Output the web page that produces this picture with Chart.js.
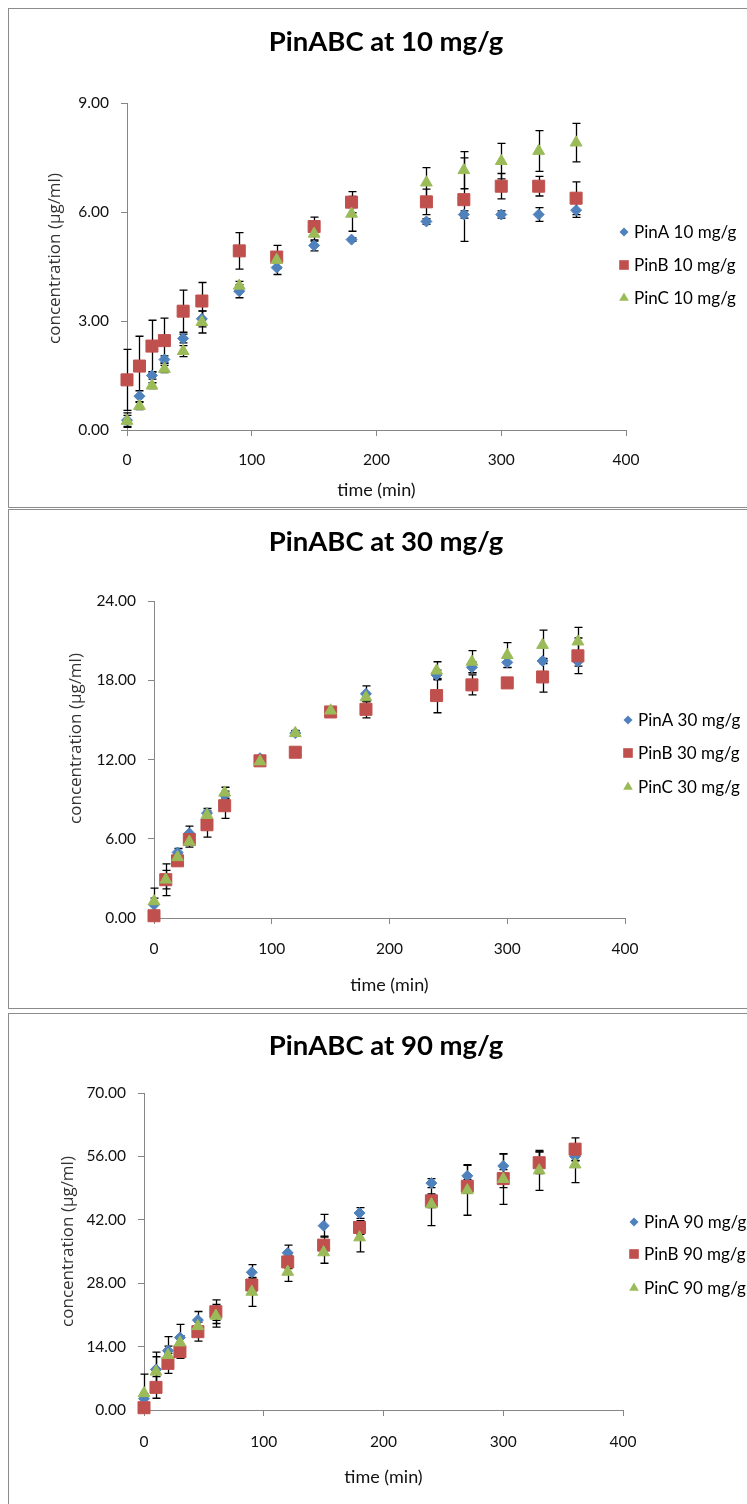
<!DOCTYPE html>
<html><head><meta charset="utf-8">
<script src="https://cdn.jsdelivr.net/npm/chart.js@4.4.1/dist/chart.umd.min.js"></script>
<style>
html,body{margin:0;padding:0;background:#fff;overflow:hidden;width:747px;height:1504px;position:relative;}
.panel{position:absolute;left:8px;border:1px solid #8c8c8c;background:#fff;}
canvas{display:block;}
</style></head><body>
<div class="panel" style="top:8px"><canvas id="c1" width="754" height="498"></canvas></div>
<div class="panel" style="top:509px"><canvas id="c2" width="754" height="498"></canvas></div>
<div class="panel" style="top:1013px"><canvas id="c3" width="754" height="495"></canvas></div>
<script>
// ---- data ----
const times = [0, 10, 20, 30, 45, 60, 90, 120, 150, 180, 240, 270, 300, 330, 360];
const xTickLabels = ['0', '100', '200', '300', '400'];

const titles = ['PinABC at 10 mg/g', 'PinABC at 30 mg/g', 'PinABC at 90 mg/g'];
const xAxisTitle = 'time (min)';
const yAxisTitle = 'concentration (µg/ml)';
const seriesNames10 = ['PinA 10 mg/g', 'PinB 10 mg/g', 'PinC 10 mg/g'];
const seriesNames30 = ['PinA 30 mg/g', 'PinB 30 mg/g', 'PinC 30 mg/g'];
const seriesNames90 = ['PinA 90 mg/g', 'PinB 90 mg/g', 'PinC 90 mg/g'];

const yTicks10 = ['0.00', '3.00', '6.00', '9.00'];
const yTicks30 = ['0.00', '6.00', '12.00', '18.00', '24.00'];
const yTicks90 = ['0.00', '14.00', '28.00', '42.00', '56.00', '70.00'];

const pinA10 = [0.27, 0.93, 1.50, 1.94, 2.52, 3.06, 3.82, 4.47, 5.08, 5.24, 5.74, 5.93, 5.93, 5.93, 6.05];
const pinB10 = [1.38, 1.76, 2.31, 2.46, 3.27, 3.55, 4.93, 4.76, 5.60, 6.27, 6.28, 6.34, 6.71, 6.71, 6.38];
const pinC10 = [0.25, 0.66, 1.22, 1.68, 2.17, 2.97, 3.97, 4.68, 5.40, 5.95, 6.81, 7.15, 7.40, 7.68, 7.91];
const errA10 = [0.20, 0.15, 0.10, 0.10, 0.12, 0.22, 0.18, 0.19, 0.15, 0.05, 0.08, 0.10, 0.10, 0.19, 0.20];
const errB10 = [0.84, 0.82, 0.71, 0.62, 0.58, 0.51, 0.50, 0.32, 0.26, 0.29, 0.35, 1.15, 0.35, 0.27, 0.45];
const errC10 = [0.15, 0.10, 0.08, 0.10, 0.15, 0.30, 0.12, 0.20, 0.20, 0.48, 0.41, 0.51, 0.49, 0.56, 0.53];

const pinA30 = [1.00, 2.90, 4.96, 6.41, 7.94, 9.30, 12.10, 14.00, 15.60, 16.97, 18.40, 18.98, 19.35, 19.46, 19.42];
const pinB30 = [0.17, 2.90, 4.33, 5.94, 7.06, 8.50, 11.90, 12.55, 15.60, 15.80, 16.84, 17.65, 17.80, 18.25, 19.85];
const pinC30 = [1.26, 2.90, 4.60, 5.77, 7.79, 9.49, 11.85, 13.99, 15.70, 16.70, 18.73, 19.40, 19.90, 20.67, 20.93];
const errA30 = [0.50, 0.70, 0.30, 0.55, 0.35, 0.30, 0.20, 0.20, 0.20, 0.60, 0.37, 0.40, 0.37, 0.20, 0.35];
const errB30 = [0.30, 1.20, 0.30, 0.30, 0.93, 0.95, 0.20, 0.20, 0.20, 0.65, 1.30, 0.75, 0.20, 1.15, 1.35];
const errC30 = [1.00, 0.30, 0.30, 0.40, 0.30, 0.41, 0.20, 0.20, 0.20, 0.30, 0.67, 0.84, 0.95, 1.13, 1.07];

const pinA90 = [2.5, 8.97, 13.1, 16.0, 19.85, 21.3, 30.4, 34.7, 40.7, 43.5, 50.1, 51.7, 53.9, 54.8, 56.0];
const pinB90 = [0.5, 5.0, 10.3, 12.9, 17.3, 21.7, 27.6, 32.7, 36.4, 40.3, 46.2, 49.4, 51.1, 54.6, 57.6];
const pinC90 = [3.7, 8.46, 12.1, 14.9, 18.5, 20.8, 26.1, 30.5, 34.8, 38.1, 45.4, 48.5, 51.0, 52.9, 54.2];
const errA90 = [1.0, 3.8, 3.1, 2.9, 1.9, 1.5, 1.7, 1.7, 2.5, 1.2, 1.0, 2.5, 2.6, 2.2, 1.0];
const errB90 = [0.5, 2.4, 2.2, 1.5, 2.1, 2.6, 1.5, 1.5, 2.0, 1.5, 1.5, 1.5, 2.0, 2.4, 2.5];
const errC90 = [4.2, 3.3, 2.0, 1.5, 1.5, 2.5, 3.2, 2.1, 2.4, 3.2, 4.7, 5.5, 5.6, 4.4, 4.0];

// ---- styles ----
const COLORS = ['#4F81BD', '#C0504D', '#9BBB59'];
const STYLES = ['rectRot', 'rect', 'triangle'];
const RADII = [5.5, 8.5, 6.8];
const LEGEND_RADII = [4.5, 6.8, 5.6];
const FONT = 'Lato';

const errorBarPlugin = {
  id: 'errorBars',
  beforeDatasetsDraw(chart) {
    const ctx = chart.ctx, xs = chart.scales.x, ys = chart.scales.y;
    ctx.save();
    ctx.strokeStyle = '#000';
    ctx.lineWidth = 1.3;
    chart.data.datasets.forEach(ds => {
      ds.data.forEach((p, i) => {
        const e = ds.errors[i];
        const x = Math.round(xs.getPixelForValue(p.x)) + 0.5;
        const yt = ys.getPixelForValue(p.y + e);
        const yb = ys.getPixelForValue(p.y - e);
        ctx.beginPath();
        ctx.moveTo(x, yt); ctx.lineTo(x, yb);
        ctx.moveTo(x - 4, yt); ctx.lineTo(x + 4, yt);
        ctx.moveTo(x - 4, yb); ctx.lineTo(x + 4, yb);
        ctx.stroke();
      });
    });
    ctx.restore();
  }
};

const sideLegendPlugin = {
  id: 'sideLegend',
  afterDraw(chart, args, opts) {
    const ctx = chart.ctx;
    ctx.save();
    chart.data.datasets.forEach((ds, i) => {
      const x = opts.x, y = opts.rows[i];
      ctx.fillStyle = ds.backgroundColor;
      Chart.helpers.drawPoint(ctx, {pointStyle: ds.pointStyle, radius: LEGEND_RADII[i], borderWidth: 0, rotation: 0}, x, y);
      ctx.fillStyle = '#000';
      ctx.font = '17px ' + FONT;
      ctx.textAlign = 'left';
      ctx.textBaseline = 'middle';
      ctx.fillText(ds.label, x + 10, y + 1);
    });
    ctx.restore();
  }
};

const yTitlePlugin = {
  id: 'yTitle',
  afterDraw(chart, args, opts) {
    const ctx = chart.ctx, ca = chart.chartArea;
    ctx.save();
    ctx.translate(opts.x, (ca.top + ca.bottom) / 2 + opts.dy);
    ctx.rotate(-Math.PI / 2);
    ctx.font = '17px "Open Sans"';
    ctx.fillStyle = '#333';
    ctx.textAlign = 'center';
    ctx.textBaseline = 'middle';
    ctx.fillText(opts.text, 0, 0);
    ctx.restore();
  }
};

function makeChart(id, title, names, series, errs, yLabels, L) {
  const yMax = parseFloat(yLabels[yLabels.length - 1]);
  const datasets = series.map((vals, s) => ({
    label: names[s],
    data: times.map((t, i) => ({x: t, y: vals[i]})),
    errors: errs[s],
    showLine: false,
    pointStyle: STYLES[s],
    pointRadius: RADII[s],
    pointHoverRadius: RADII[s],
    backgroundColor: COLORS[s],
    borderColor: COLORS[s],
    pointBorderWidth: 1,
    order: 2 - s,
    clip: false
  }));
  return new Chart(document.getElementById(id), {
    type: 'scatter',
    data: {datasets},
    plugins: [errorBarPlugin, sideLegendPlugin, yTitlePlugin],
    options: {
      responsive: false,
      animation: false,
      events: [],
      layout: {padding: 0},
      plugins: {
        legend: {display: false},
        tooltip: {enabled: false},
        title: {
          display: true, text: title, color: '#000',
          font: {family: FONT, size: 27.5, weight: 'bold'},
          padding: {top: L.tTop, bottom: L.tBottom}
        },
        sideLegend: {x: L.legX, rows: L.legRows},
        yTitle: {text: yAxisTitle, x: L.yTitleX, dy: L.yTitleDy}
      },
      scales: {
        x: {
          type: 'linear', min: 0, max: 400,
          afterFit: s => { s.height = L.xHeight; s.paddingLeft = 0; s.paddingRight = L.padRight; },
          afterBuildTicks: s => { s.ticks = xTickLabels.map(v => ({value: parseFloat(v)})); },
          ticks: {
            color: '#111', font: {family: FONT, size: 15.5}, padding: L.xTickPad,
            maxRotation: 0, autoSkip: false,
            callback: (v, i) => xTickLabels[i]
          },
          grid: {drawOnChartArea: false, drawTicks: true, tickLength: 6, color: '#868686', lineWidth: 1},
          border: {display: true, color: '#868686', width: 1},
          title: {display: true, text: xAxisTitle, color: '#111',
                  font: {family: FONT, size: 18}, padding: {top: 0, bottom: L.xTitlePad}}
        },
        y: {
          type: 'linear', min: 0, max: yMax,
          afterFit: s => { s.width = L.yWidth; s.paddingTop = 0; s.paddingBottom = 0; },
          afterBuildTicks: s => { s.ticks = yLabels.map(v => ({value: parseFloat(v)})); },
          ticks: {
            color: '#111', font: {family: FONT, size: 15.5}, padding: 12,
            autoSkip: false,
            callback: (v, i) => yLabels[i]
          },
          grid: {drawOnChartArea: false, drawTicks: true, tickLength: 6, color: '#868686', lineWidth: 1},
          border: {display: true, color: '#868686', width: 1},
          title: {display: false}
        }
      }
    }
  });
}

makeChart('c1', titles[0], seriesNames10, [pinA10, pinB10, pinC10], [errA10, errB10, errC10], yTicks10,
  {padRight: 137, tTop: 16.5, tBottom: 44.5, xHeight: 77, xTickPad: 15, xTitlePad: 6.2, yWidth: 118,
   yTitleX: 46, yTitleDy: -8, legX: 615, legRows: [223, 256, 289]});
makeChart('c2', titles[1], seriesNames30, [pinA30, pinB30, pinC30], [errA30, errB30, errC30], yTicks30,
  {padRight: 138, tTop: 16, tBottom: 42, xHeight: 90, xTickPad: 16, xTitlePad: 12.2, yWidth: 145,
   yTitleX: 67, yTitleDy: -21, legX: 619, legRows: [210, 243, 277]});
makeChart('c3', titles[2], seriesNames90, [pinA90, pinB90, pinC90], [errA90, errB90, errC90], yTicks90,
  {padRight: 140, tTop: 16, tBottom: 30, xHeight: 99, xTickPad: 16.7, xTitlePad: 21.5, yWidth: 135,
   yTitleX: 59, yTitleDy: -10, legX: 625, legRows: [208, 240, 274]});
</script>
</body></html>
